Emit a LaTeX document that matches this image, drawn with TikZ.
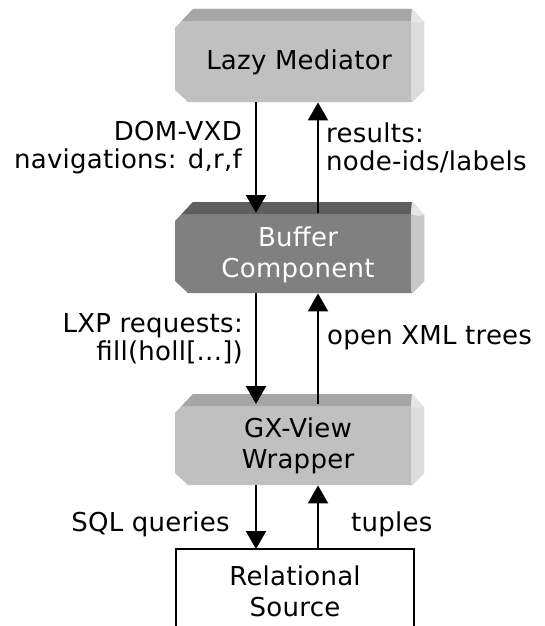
\documentclass[tikz,border=0pt]{standalone}
\usepackage{fontspec}
\setmainfont{DejaVu Sans}[LetterSpace=1]
\usetikzlibrary{arrows.meta,calc}
\definecolor{lface}{HTML}{C0C0C0}
\definecolor{lstrip}{HTML}{A6A6A6}
\definecolor{lside}{HTML}{DCDCDC}
\definecolor{dface}{HTML}{808080}
\definecolor{dstrip}{HTML}{5F5F5F}
\definecolor{dside}{HTML}{C8C8C8}
\definecolor{hilite}{HTML}{E6E6E6}
\newcommand\bevelshape[5]{%
  \fill[#3] (175,#1+19) -- (193,#1) -- (412,#1) -- (424,#1+13) -- (424,#2-12) -- (412,#2) -- (188,#2) -- (175,#2-12) -- cycle;
  \fill[#4] (181.6,#1+12) -- (193,#1) -- (412,#1) -- (411,#1+12) -- cycle;
  \fill[#5] (411,#1+12) -- (412,#1) -- (424,#1+13) -- (424,#2-12) -- (412,#2) -- (411,#2-2) -- cycle;
  \fill[hilite] (412,#1) -- (424,#1+13) -- (418,#1+14) -- (411,#1+12) -- cycle;
}
\begin{document}
\begin{tikzpicture}[x=1pt,y=-1pt,
  conn/.style={line width=2pt,-{Triangle[width=20pt,length=18pt]}},
  lbl/.style={font=\fontsize{26}{28}\selectfont, inner sep=0pt},
  boxtext/.style={font=\fontsize{26}{31}\selectfont, align=center, inner sep=0pt},
  frame/.style={inner sep=0pt, minimum width=249pt, anchor=north west}]
\useasboundingbox (0,0) rectangle (544,626);
\clip (0,0) rectangle (544,626);
\fill[white] (0,0) rectangle (544,626);

% boxes
\bevelshape{9}{102}{lface}{lstrip}{lside}
\node[frame, minimum height=93pt] (lm) at (175,9) {};
\node[boxtext] (lmt) at (299,62) {Lazy Mediator};

\bevelshape{202}{293}{dface}{dstrip}{dside}
\node[frame, minimum height=91pt] (buf) at (175,202) {};
\node[boxtext, text=white] (buft) at (298,255) {Buffer\\Component};

\bevelshape{394}{485}{lface}{lstrip}{lside}
\node[frame, minimum height=91pt] (gx) at (175,394) {};
\node[boxtext] (gxt) at (298,446) {GX-View\\Wrapper};

\node[inner sep=0pt, minimum width=238pt, minimum height=100pt, anchor=north west] (rs) at (176,549) {};
\draw[line width=2pt] (rs.south west) -- (rs.north west) -- (rs.north east) -- (rs.south east);
\node[boxtext] (rst) at (295,591) {Relational\\Source};

% connectors
\coordinate (L) at (256,0);
\coordinate (R) at (318,0);
\draw[conn] (lm.south -| L) -- ($(buf.north -| L)+(0,11)$);
\draw[conn] ($(buf.north -| R)+(0,11)$) -- (lm.south -| R);
\draw[conn] (buf.south -| L) -- ($(gx.north -| L)+(0,10)$);
\draw[conn] ($(gx.north -| R)+(0,10)$) -- (buf.south -| R);
\draw[conn] (gx.south -| L) -- (rs.north -| L);
\draw[conn] (rs.north -| R) -- (gx.south -| R);

% labels
\node[lbl, anchor=east, align=right] (l1) at (242,148) {DOM-VXD\\navigations: d,r,f};
\node[lbl, anchor=west, align=left] (l2) at (326,148) {results:\\node-ids/labels};
\node[lbl, anchor=east, align=right] (l3) at (243,339) {LXP requests:\\fill(holl[...])};
\node[lbl, anchor=west] (l4) at (327,338) {open XML trees};
\node[lbl, anchor=east] (l5) at (230,524) {SQL queries};
\node[lbl, anchor=west] (l6) at (351,524) {tuples};
\end{tikzpicture}
\end{document}
